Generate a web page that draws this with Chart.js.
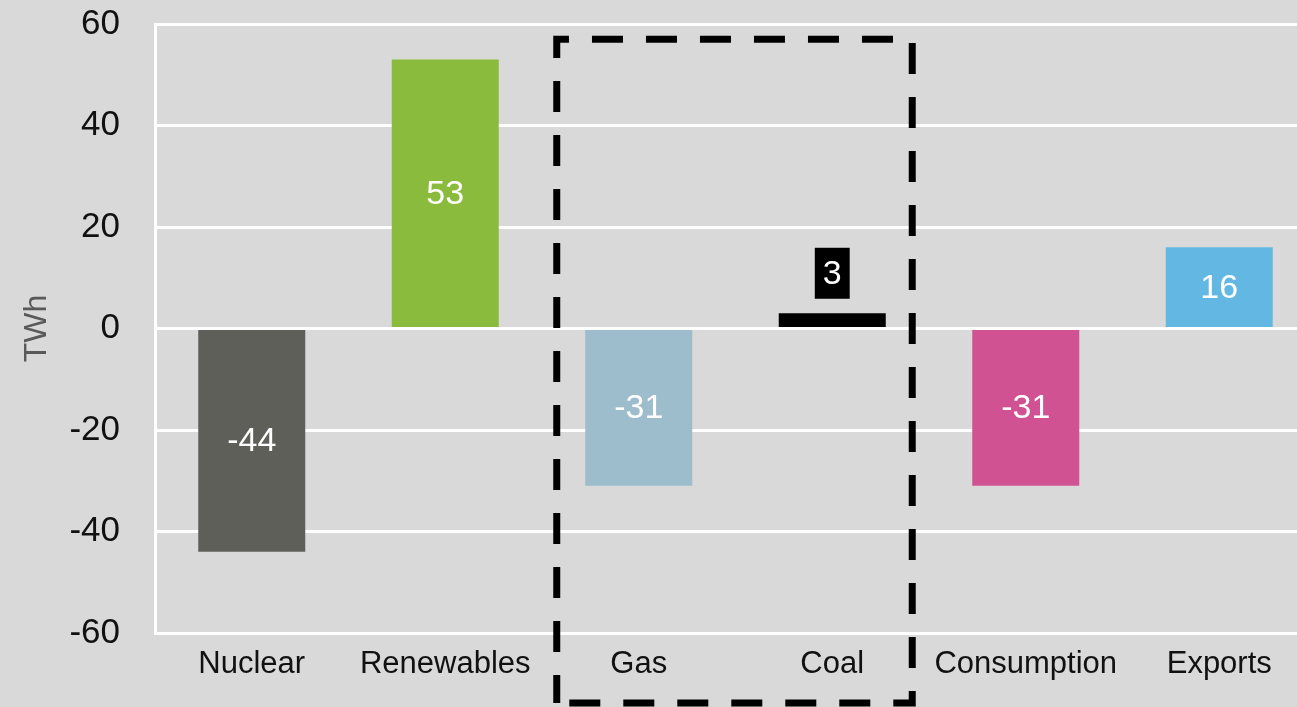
<!DOCTYPE html>
<html>
<head>
<meta charset="utf-8">
<script src="https://cdn.jsdelivr.net/npm/chart.js@4/dist/chart.umd.min.js"></script>
<style>
  html, body { margin: 0; padding: 0; background: #d9d9d9; overflow: hidden; }
  #wrap { width: 1316px; height: 707px; }
</style>
</head>
<body>
<div id="wrap"><canvas id="changeChart" width="1316" height="707"></canvas></div>
<script>
const categories = ['Nuclear', 'Renewables', 'Gas', 'Coal', 'Consumption', 'Exports'];
const changeTWh = [-44, 53, -31, 3, -31, 16];
const barColors = ['#5e5f58', '#8abb3c', '#9dbccc', '#000000', '#d15292', '#63b8e3'];
const yTicks = [-60, -40, -20, 0, 20, 40, 60];

const FONT = '"Liberation Sans", Arial, sans-serif';

// value labels inside the bars; short bars get a black tag above instead
const valueLabels = {
  id: 'valueLabels',
  afterDatasetsDraw(chart) {
    const ctx = chart.ctx;
    const y = chart.scales.y;
    const area = chart.chartArea;

    // zero line sits on top of the bars
    ctx.save();
    ctx.strokeStyle = '#ffffff';
    ctx.lineWidth = 3;
    ctx.beginPath();
    ctx.moveTo(area.left, y.getPixelForValue(0));
    ctx.lineTo(area.right, y.getPixelForValue(0));
    ctx.stroke();

    ctx.font = '34px ' + FONT;
    ctx.textAlign = 'center';
    ctx.textBaseline = 'middle';
    chart.getDatasetMeta(0).data.forEach((bar, i) => {
      const text = String(changeTWh[i]);
      const h = Math.abs(bar.base - bar.y);
      if (h > 40) {
        ctx.fillStyle = '#ffffff';
        ctx.fillText(text, bar.x, (bar.y + bar.base) / 2 + 1);
      } else {
        const cy = bar.y - 40;
        const w = ctx.measureText(text).width + 16;
        ctx.fillStyle = '#000000';
        ctx.fillRect(bar.x - w / 2, cy - 25.5, w, 51);
        ctx.fillStyle = '#ffffff';
        ctx.fillText(text, bar.x, cy + 1);
      }
    });
    ctx.restore();
  }
};

// dashed frame around the Gas and Coal columns
const dashedFrame = {
  id: 'dashedFrame',
  afterDraw(chart) {
    const ctx = chart.ctx;
    const x = chart.scales.x;
    const y = chart.scales.y;
    const left = x.getPixelForValue(2) - 82;
    const right = x.getPixelForValue(3) + 80;
    const top = y.getPixelForValue(57);
    const bottom = 703;
    ctx.save();
    ctx.strokeStyle = '#000000';
    ctx.lineWidth = 7;
    ctx.setLineDash([31, 23]);
    ctx.lineDashOffset = 3;
    ctx.beginPath();
    ctx.moveTo(left, bottom);
    ctx.lineTo(left, top);
    ctx.lineTo(right, top);
    ctx.lineTo(right, bottom);
    ctx.closePath();
    ctx.stroke();
    ctx.restore();
  }
};

new Chart(document.getElementById('changeChart'), {
  type: 'bar',
  data: {
    labels: categories,
    datasets: [{
      label: 'TWh',
      data: changeTWh,
      backgroundColor: barColors,
      borderWidth: 0,
      barPercentage: 0.553,
      categoryPercentage: 1
    }]
  },
  options: {
    responsive: false,
    animation: false,
    layout: { padding: { top: 24, left: 0, right: 0, bottom: 0 } },
    plugins: {
      legend: { display: false },
      tooltip: { enabled: false }
    },
    scales: {
      x: {
        grid: { display: false },
        border: { display: false },
        ticks: {
          color: '#111111',
          font: { family: FONT, size: 31 },
          padding: 5,
          maxRotation: 0,
          autoSkip: false
        },
        afterFit(scale) { scale.height = 74; }
      },
      y: {
        min: -60,
        max: 60,
        afterBuildTicks(scale) { scale.ticks = yTicks.map(v => ({ value: v })); },
        grid: { color: '#ffffff', lineWidth: 3, drawTicks: false },
        border: { display: true, color: '#ffffff', width: 3 },
        ticks: {
          color: '#111111',
          font: { family: FONT, size: 35 },
          padding: 35
        },
        title: {
          display: true,
          text: 'TWh',
          color: '#595959',
          font: { family: FONT, size: 32 },
          padding: { top: 18, bottom: 0 }
        },
        afterFit(scale) {
          scale.width = 155;
          // keep the tick padding from pushing the plot down
          scale.paddingTop = 0;
          scale.paddingBottom = 0;
        }
      }
    }
  },
  plugins: [valueLabels, dashedFrame]
});
</script>
</body>
</html>
